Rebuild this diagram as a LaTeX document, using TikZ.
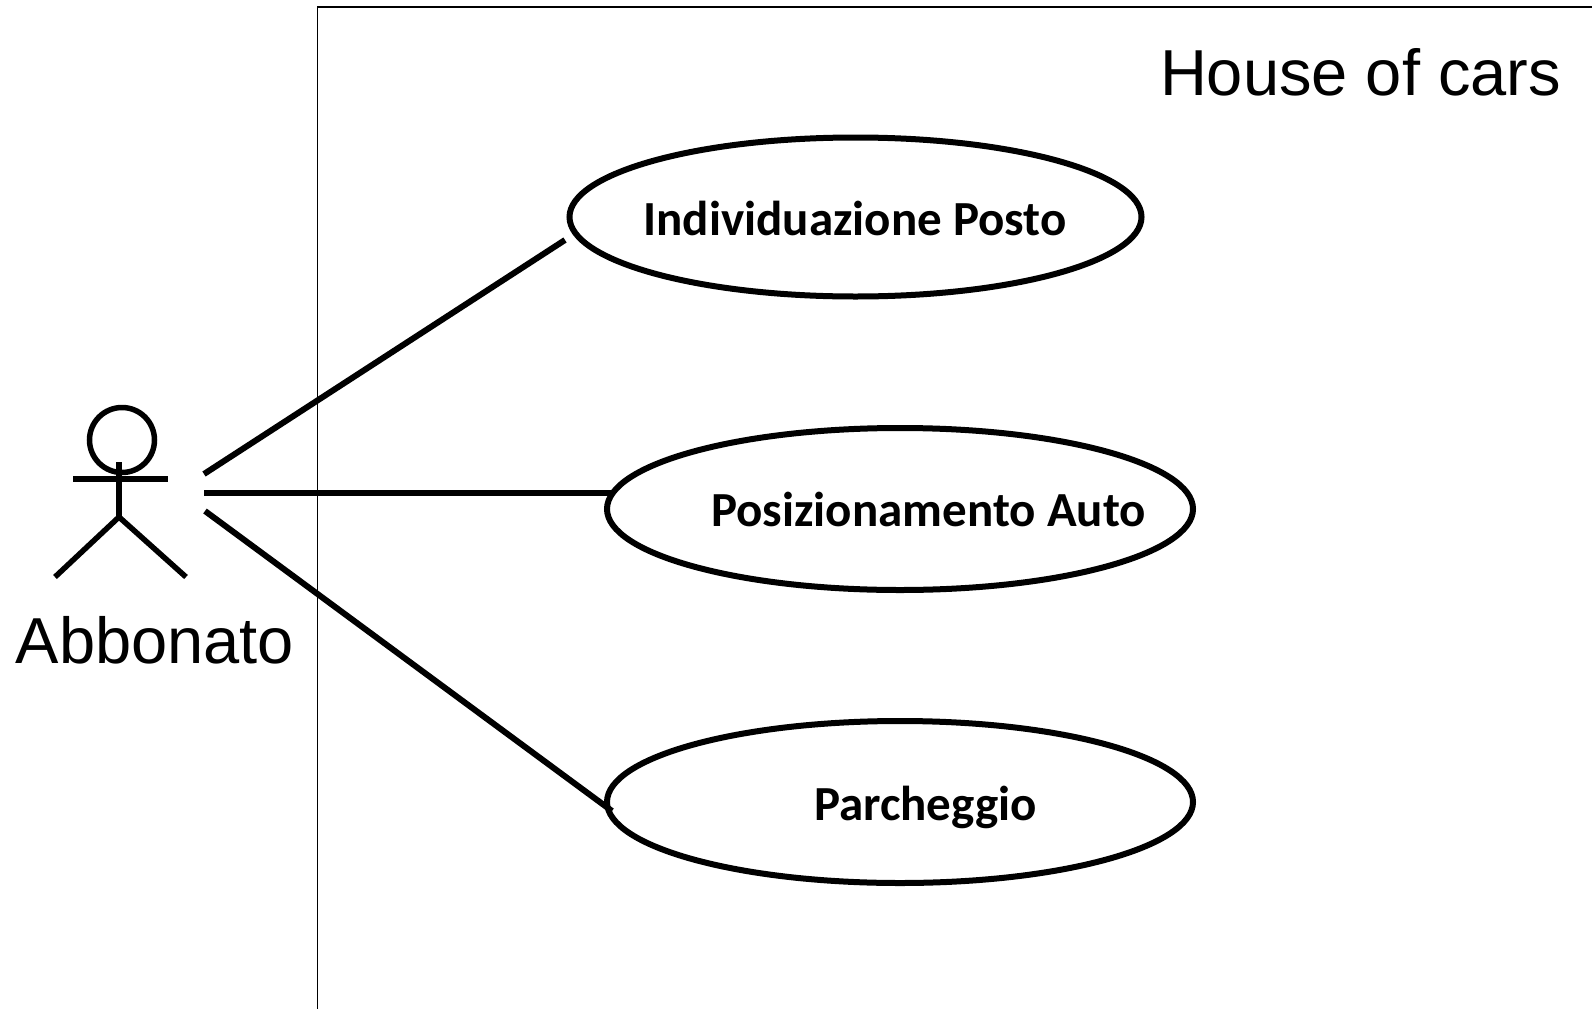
\documentclass[tikz,border=0pt]{standalone}
\usepackage{fontspec}
\setmainfont{Liberation Sans}
\newfontfamily\carl{Carlito}
\usetikzlibrary{shapes.geometric}
\tikzset{
  usecase/.style={draw=black,line width=6pt,ellipse,inner sep=0pt,minimum width=#1,minimum height=159pt},
  uselabel/.style={font=\carl\bfseries\fontsize{49}{52}\selectfont,inner sep=0pt},
  bigtext/.style={font=\fontsize{65}{70}\selectfont,inner sep=0pt},
  assoc/.style={line width=6pt,black},
  actorline/.style={line width=5.5pt,black},
  frameline/.style={line width=1.5pt,black}
}
\begin{document}
\begin{tikzpicture}[x=1pt,y=-1pt]
\useasboundingbox (0,0) rectangle (1592,1009);
\fill[white] (0,0) rectangle (1592,1009);
\draw[frameline] (1592,7) -- (317.5,7) -- (317.5,1009);
\node[bigtext] (title) at (1360.5,72) {House of cars};
\node[usecase=572pt] (u1) at (855.5,217) {};
\node[usecase=586pt,minimum height=162pt] (u2) at (900,509) {};
\node[usecase=586pt,minimum height=162pt] (u3) at (900,802) {};
\node[uselabel] (l1) at (855,218) {Individuazione Posto};
\node[uselabel] (l2) at (928.5,509) {Posizionamento Auto};
\node[uselabel] (l3) at (925.5,807) {Parcheggio};
\node[draw=black,line width=5.5pt,circle,minimum size=65pt,inner sep=0pt] (head) at (122,440) {};
\coordinate (neck) at (119,462);
\coordinate (hip) at (119,517);
\coordinate (armL) at (73,479);
\coordinate (armR) at (168,479);
\coordinate (legL) at (55,577);
\coordinate (legR) at (186,577);
\draw[actorline] (neck) -- (hip);
\draw[actorline] (armL) -- (armR);
\draw[actorline] (legL) -- (hip) -- (legR);
\node[bigtext] (actor) at (155,640) {Abbonato};
\coordinate (a1) at (204,474);
\coordinate (a2) at (204,493);
\coordinate (a3) at (205,511);
\coordinate (e1) at (565,240);
\coordinate (e2) at (612,493);
\coordinate (e3) at (612,811);
\draw[assoc] (a1) -- (e1);
\draw[assoc] (a2) -- (e2);
\draw[assoc] (a3) -- (e3);
\end{tikzpicture}
\end{document}
